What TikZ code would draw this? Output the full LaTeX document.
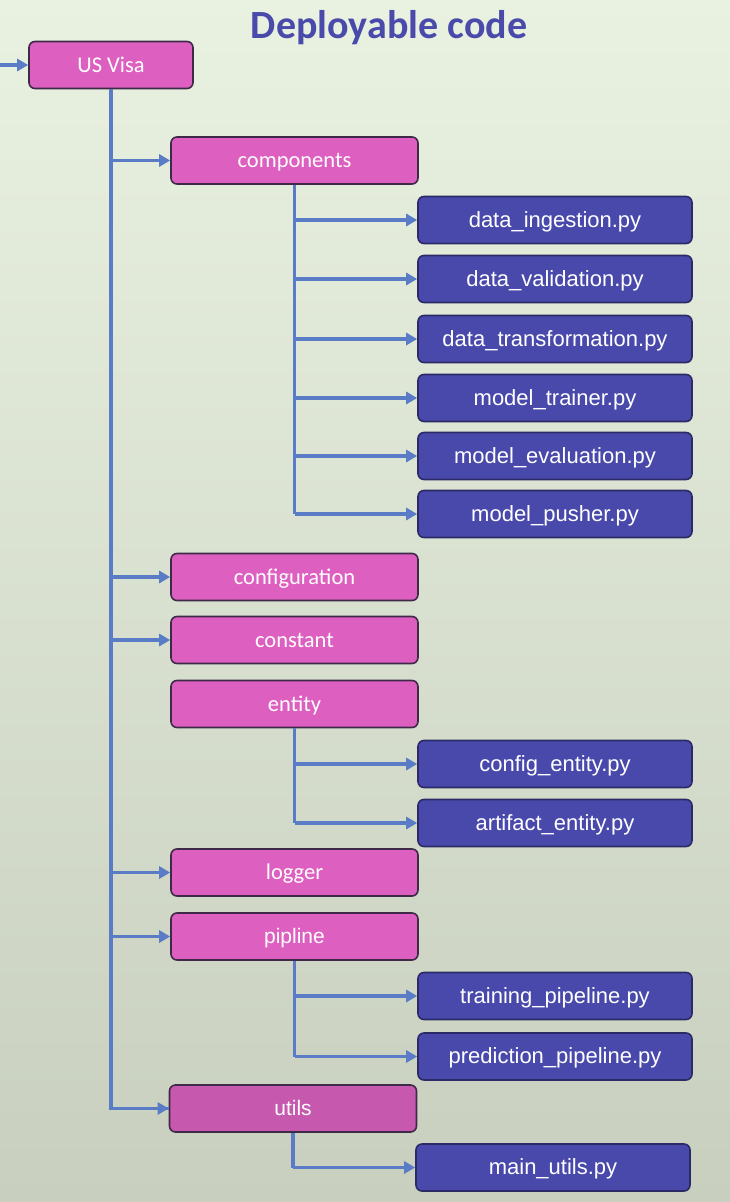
\documentclass[tikz,border=0pt]{standalone}
\usepackage{fontspec}
\setmainfont{Carlito}
\newfontfamily\arialf{Liberation Sans}
\usetikzlibrary{arrows.meta}
\definecolor{bgtop}{HTML}{E9F1E1}
\definecolor{bgbot}{HTML}{C8CFBE}
\definecolor{pinkfill}{HTML}{DD5FC0}
\definecolor{pinkdark}{HTML}{C658AE}
\definecolor{pinkline}{HTML}{3E2A48}
\definecolor{bluefill}{HTML}{4949AC}
\definecolor{blueline}{HTML}{2A2A66}
\definecolor{connc}{HTML}{5A7CC6}
\definecolor{titlec}{HTML}{4A4AAA}
\tikzset{
  folder/.style={draw=pinkline, line width=1.6pt, fill=pinkfill, rounded corners=6pt,
    minimum width=247pt, minimum height=47pt, inner sep=0pt, text=white,
    text height=16pt, text depth=2pt,
    font=\fontsize{22.5}{26}\selectfont},
  pyfile/.style={draw=blueline, line width=1.6pt, fill=bluefill, rounded corners=6pt,
    minimum width=274pt, minimum height=47pt, inner sep=0pt, text=white,
    text height=16pt, text depth=2pt,
    font=\arialf\fontsize{22}{26}\selectfont},
  conn/.style={draw=connc, line width=3.2pt},
  arr/.style={conn, -{Triangle[length=11pt,width=12pt]}},
}
\begin{document}
\begin{tikzpicture}[x=1pt,y=-1pt]
\shade[top color=bgtop, bottom color=bgbot] (0,0) rectangle (730,1202);
\useasboundingbox (0,0) rectangle (730,1202);

\node[text=titlec, font=\bfseries\fontsize{40}{44}\selectfont] (title) at (389,28) {Deployable code};

\node[folder, minimum width=164pt] (visa) at (111,65) {US Visa};
\node[folder] (comp) at (294.5,160.5) {components};
\node[folder] (conf) at (294.5,577) {configuration};
\node[folder] (const) at (294.5,640) {constant};
\node[folder] (ent) at (294.5,704) {entity};
\node[folder] (log) at (294.5,872.5) {logger};
\node[folder] (pip) at (294.5,936.5) {\arialf\fontsize{21}{26}\selectfont pipline};
\node[folder, fill=pinkdark] (utl) at (293,1108.5) {\arialf\fontsize{21}{26}\selectfont utils};

\node[pyfile] (f1) at (555,220) {data\_ingestion.py};
\node[pyfile] (f2) at (555,279) {data\_validation.py};
\node[pyfile] (f3) at (555,339) {data\_transformation.py};
\node[pyfile] (f4) at (555,398) {model\_trainer.py};
\node[pyfile] (f5) at (555,456) {model\_evaluation.py};
\node[pyfile] (f6) at (555,514) {model\_pusher.py};
\node[pyfile] (f7) at (555,764) {config\_entity.py};
\node[pyfile] (f8) at (555,823) {artifact\_entity.py};
\node[pyfile] (f9) at (555,996) {training\_pipeline.py};
\node[pyfile] (f10) at (555,1056.5) {prediction\_pipeline.py};
\node[pyfile] (f11) at (553,1167.5) {main\_utils.py};

\coordinate (in) at (0,65);
\draw[arr] (in) -- (visa.west);

% main trunk
\draw[conn] (visa.south) |- (utl.west);
\draw[arr] (visa.south |- utl.west) -- (utl.west);
\foreach \n in {comp,conf,const,log,pip}
  \draw[arr] (visa.south |- \n.west) -- (\n.west);

% components children
\draw[conn] (comp.south) -- (comp.south |- f6.west);
\foreach \f in {f1,f2,f3,f4,f5,f6}
  \draw[arr] (comp.south |- \f.west) -- (\f.west);

% entity children
\draw[conn] (ent.south) -- (ent.south |- f8.west);
\foreach \f in {f7,f8}
  \draw[arr] (ent.south |- \f.west) -- (\f.west);

% pipeline children
\draw[conn] (pip.south) -- (pip.south |- f10.west);
\foreach \f in {f9,f10}
  \draw[arr] (pip.south |- \f.west) -- (\f.west);

% utils child
\draw[conn] (utl.south) -- (utl.south |- f11.west);
\draw[arr] (utl.south |- f11.west) -- (f11.west);
\end{tikzpicture}
\end{document}
